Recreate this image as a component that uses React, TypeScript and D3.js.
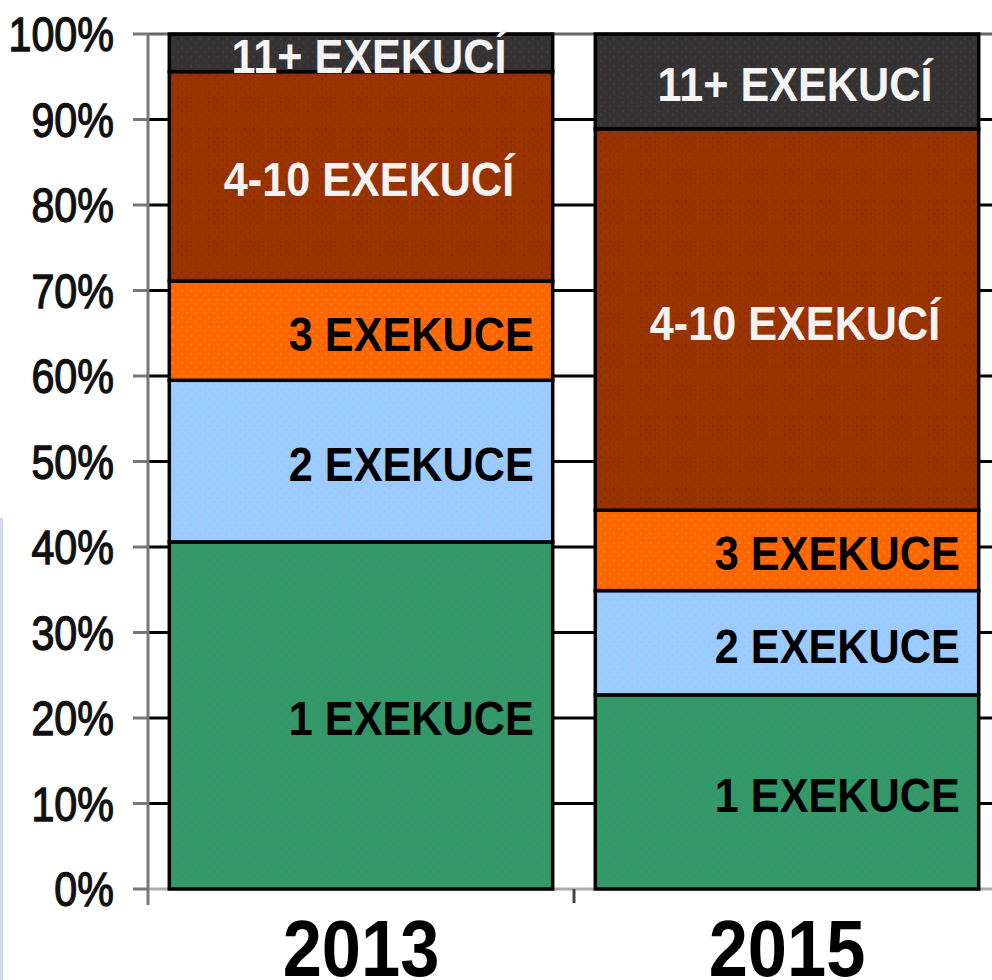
import React from "react";
import * as d3 from "d3";

const categories = ["2013", "2015"];
const seriesNames = ["1 EXEKUCE", "2 EXEKUCE", "3 EXEKUCE", "4-10 EXEKUCÍ", "11+ EXEKUCÍ"];
const values2013 = [40.6, 18.9, 11.6, 24.5, 4.4];
const values2015 = [22.7, 12.2, 9.4, 44.6, 11.1];
const seriesColors = ["#339966", "#99CCFF", "#FF6600", "#993300", "#333333"];
const dotColors = ["#3f7f9a", "#c8a8f0", "#ff9a33", "#7a2a00", "#6a3040"];
const labelColors = ["#000000", "#000000", "#000000", "#f4f4f4", "#f4f4f4"];
const yTicks = [0, 10, 20, 30, 40, 50, 60, 70, 80, 90, 100];

const W = 992;
const H = 980;
const FONT = "'Liberation Sans', Arial, sans-serif";

export default function App() {
  const y = d3.scaleLinear().domain([0, 100]).range([889, 34]);
  const x = d3
    .scaleBand<string>()
    .domain(categories)
    .range([148, 1000])
    .paddingInner(0.1)
    .paddingOuter(0.05);

  const rows = categories.map((c, i) => {
    const r: Record<string, any> = { category: c };
    const vals = i === 0 ? values2013 : values2015;
    seriesNames.forEach((s, j) => (r[s] = vals[j]));
    return r;
  });
  const stacked = d3.stack().keys(seriesNames)(rows as any);

  const midTick = (x(categories[0])! + x.bandwidth() + x(categories[1])!) / 2;

  return (
    <svg
      width={W}
      height={H}
      style={{ position: "absolute", left: 0, top: 0, background: "#fff" }}
    >
      <defs>
        {seriesColors.map((c, i) => (
          <pattern key={i} id={`pat${i}`} width={9} height={9} patternUnits="userSpaceOnUse">
            <rect width={9} height={9} fill={c} />
            <rect x={1} y={2} width={2} height={2} fill={dotColors[i]} opacity={0.55} />
            <rect x={6} y={6} width={2} height={2} fill={dotColors[i]} opacity={0.45} />
          </pattern>
        ))}
      </defs>

      {/* left edge strip */}
      <rect x={0} y={518} width={3} height={H - 518} fill="#d0d8ec" />

      {/* gridlines */}
      {yTicks.map((t) => (
        <line
          key={`g${t}`}
          x1={148}
          x2={W}
          y1={y(t)}
          y2={y(t)}
          stroke={t === 100 ? "#666" : t === 0 ? "#b0a8b0" : "#000"}
          strokeWidth={3}
        />
      ))}

      {/* y axis */}
      <line x1={148} x2={148} y1={y(100) - 1} y2={905} stroke="#777" strokeWidth={3} />
      {yTicks.map((t) => (
        <line key={`t${t}`} x1={133} x2={148} y1={y(t)} y2={y(t)} stroke="#777" strokeWidth={3} />
      ))}
      <line x1={midTick} x2={midTick} y1={889} y2={903} stroke="#444" strokeWidth={3} />

      {yTicks.map((t) => (
        <text
          key={`l${t}`}
          transform={`translate(114,${y(t) + 17}) scale(0.86,1)`}
          textAnchor="end"
          fontFamily={FONT}
          fontSize={48}
          fontWeight="normal"
          fill="#111"
          stroke="#111"
          strokeWidth={1.3}
        >
          {t}%
        </text>
      ))}

      {/* bars */}
      {stacked.map((layer, si) =>
        layer.map((d, ci) => {
          const cat = categories[ci];
          const x0 = x(cat)!;
          const bw = x.bandwidth();
          const yTop = y(d[1]);
          const yBot = y(d[0]);
          return (
            <rect
              key={`b${si}-${ci}`}
              x={x0}
              y={yTop}
              width={bw}
              height={yBot - yTop}
              fill={`url(#pat${si})`}
              stroke="#000"
              strokeWidth={3.5}
            />
          );
        })
      )}

      {/* segment labels */}
      {stacked.map((layer, si) =>
        layer.map((d, ci) => {
          const cat = categories[ci];
          const x0 = x(cat)!;
          const bw = x.bandwidth();
          const cy = (y(d[0]) + y(d[1])) / 2 + 3;
          const dark = si < 3;
          const tx = dark ? x0 + bw - 19 : x0 + bw / 2 + 8;
          return (
            <text
              key={`s${si}-${ci}`}
              transform={`translate(${tx},${cy + 17}) scale(0.9,1)`}
              textAnchor={dark ? "end" : "middle"}
              fontFamily={FONT}
              fontSize={48}
              fontWeight="bold"
              fill={labelColors[si]}
            >
              {seriesNames[si]}
            </text>
          );
        })
      )}

      {/* category labels */}
      {categories.map((c) => (
        <text
          key={`c${c}`}
          transform={`translate(${x(c)! + x.bandwidth() / 2},976) scale(0.88,1)`}
          textAnchor="middle"
          fontFamily={FONT}
          fontSize={80}
          fontWeight="bold"
          fill="#000"
        >
          {c}
        </text>
      ))}
    </svg>
  );
}
